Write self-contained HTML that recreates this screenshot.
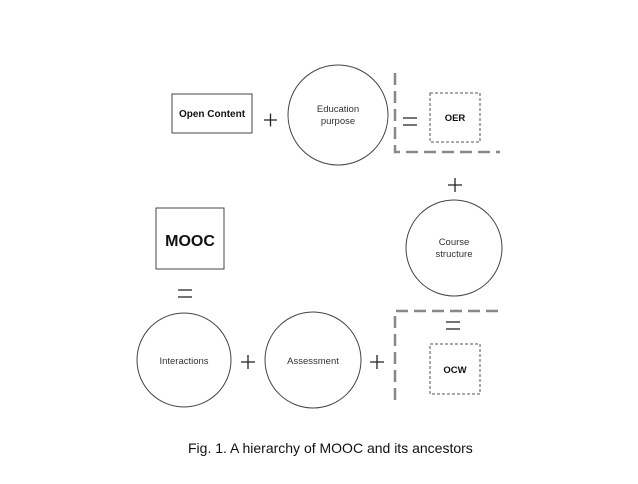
<!DOCTYPE html>
<html><head><style>body{margin:0;background:#fff}</style></head><body>
<svg width="638" height="479" viewBox="0 0 638 479" xmlns="http://www.w3.org/2000/svg" font-family="Liberation Sans, sans-serif">
<g fill="none" stroke="#444" stroke-width="1">
<rect x="172" y="94" width="80" height="39"/>
<circle cx="338" cy="115" r="50"/>
<rect x="156" y="208" width="68" height="61"/>
<circle cx="454" cy="248" r="48"/>
<circle cx="184" cy="360" r="47"/>
<circle cx="313" cy="360" r="48"/>
</g>
<g fill="none" stroke="#555" stroke-width="1" stroke-dasharray="3,2">
<rect x="430" y="93" width="50" height="49"/>
<rect x="430" y="344" width="50" height="50"/>
</g>
<g fill="none" stroke="#888" stroke-width="2.5" stroke-dasharray="12,6">
<polyline points="395,73 395,152 500,152"/>
<polyline points="395,400 395,311 500,311"/>
</g>
<g stroke="#222" stroke-width="1.3">
<path d="M264 120h13M270.5 113.5v13"/>
<path d="M403 118h14M403 125h14"/>
<path d="M448 185h14M455 178v14"/>
<path d="M178 290h14M178 297h14"/>
<path d="M241 362h14M248 355v14"/>
<path d="M370 362h14M377 355v14"/>
<path d="M446 322h14M446 329h14"/>
</g>
<g font-size="9.5" text-anchor="middle" fill="#333">
<text x="212" y="117" font-weight="bold" font-size="10" fill="#111">Open Content</text>
<text x="338" y="112">Education</text>
<text x="338" y="124">purpose</text>
<text x="455" y="121" font-weight="bold" fill="#111">OER</text>
<text x="190" y="246" font-size="16" font-weight="bold" fill="#111">MOOC</text>
<text x="454" y="245">Course</text>
<text x="454" y="257">structure</text>
<text x="184" y="364">Interactions</text>
<text x="313" y="364">Assessment</text>
<text x="455" y="373" font-weight="bold" fill="#111">OCW</text>
</g>
<text x="188" y="453" font-size="14" fill="#111">Fig. 1. A hierarchy of MOOC and its ancestors</text>
</svg>
</body></html>
